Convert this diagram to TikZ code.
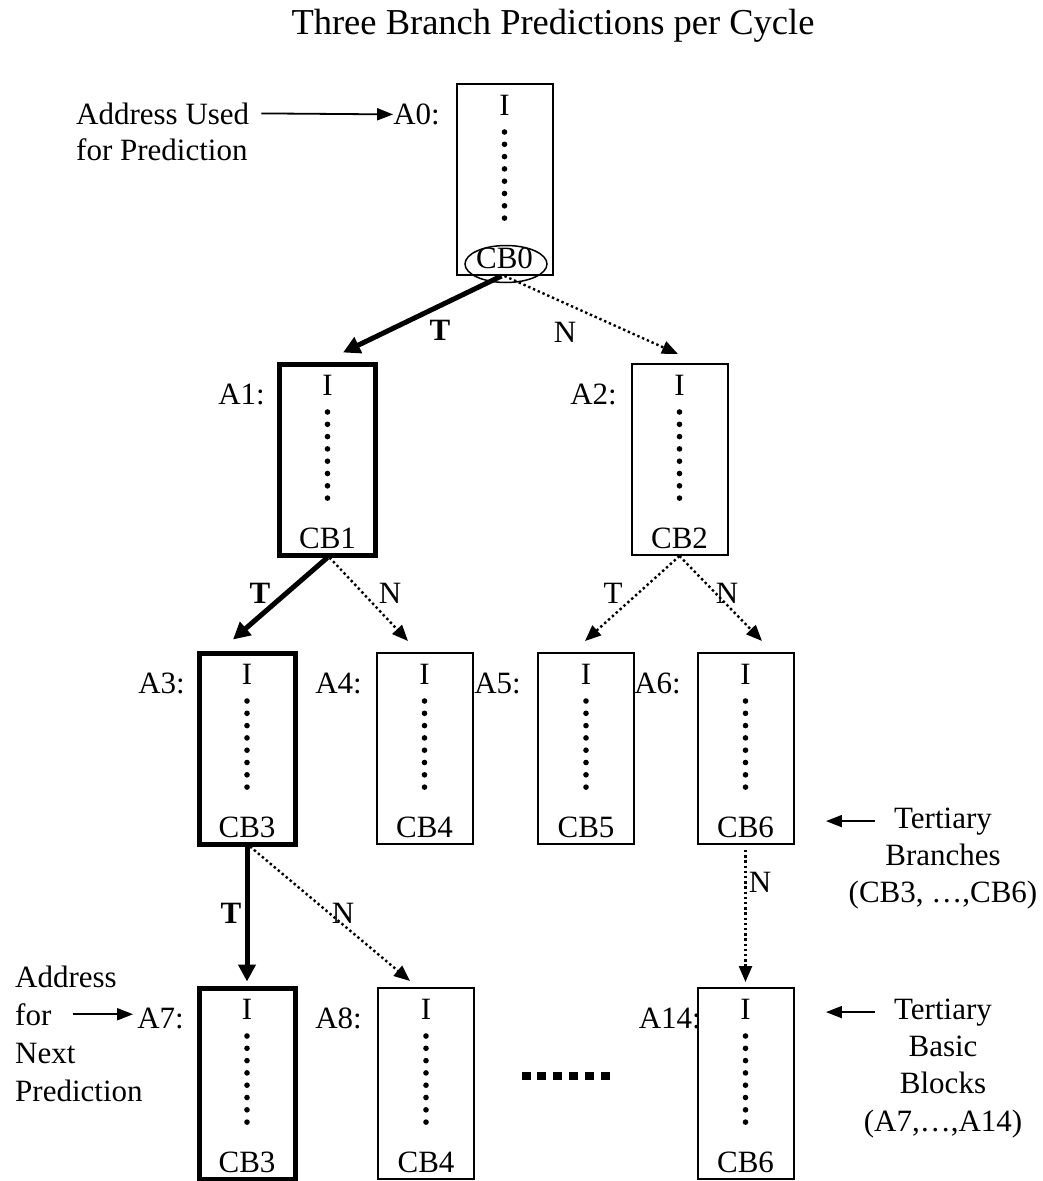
\documentclass[tikz,border=0pt]{standalone}
\usepackage{fontspec}
\setmainfont{Liberation Serif}
\usetikzlibrary{arrows.meta,shapes.geometric,calc}

\newcommand{\mkblk}[7]{%
  % #1 name, #2 x centre, #3 top, #4 box style, #5 label, #6 CB text, #7 label right x
  \node[txt, anchor=base east] (#1l) at (#7,#3+40.5) {#5};
  \node[#4] (#1) at (#2,#3+95.5) {};
  \node[txt, anchor=base] (#1i) at (#2,#3+31.5) {I};
  \foreach \k in {0,...,7} \fill (#2,#3+48+12.3*\k) circle (2.8pt);
  \node[txt, anchor=base] (#1c) at (#2,#3+184) {#6};
}

\begin{document}
\begin{tikzpicture}[x=1pt,y=-1pt,
  txt/.style={font=\fontsize{31}{36}\selectfont, inner sep=0pt},
  btxt/.style={txt, font=\fontsize{31}{36}\selectfont\bfseries},
  blk/.style={draw, line width=2pt, minimum width=96pt, minimum height=191pt, inner sep=0pt, fill=white},
  blkthick/.style={blk, line width=5pt},
  tarrow/.style={line width=5pt, -{Triangle[length=17pt,width=17pt]}},
  narrow/.style={line width=2.4pt, dash pattern=on 2.4pt off 2.8pt, -{Triangle[length=16pt,width=13pt]}},
  thinarrow/.style={line width=1.8pt, -{Triangle[length=16pt,width=12pt]}}
]
\fill[white] (0,0) rectangle (1042,1181);
\useasboundingbox (0,0) rectangle (1042,1181);

\node[anchor=base, inner sep=0pt, font=\fontsize{36.5}{44}\selectfont] (title) at (553,34) {Three Branch Predictions per Cycle};

% left notes
\node[txt, anchor=base west] (addr1) at (76,124) {Address Used};
\node[txt, anchor=base west] (addr2) at (76,160) {for Prediction};
\node[txt, anchor=base west] (nxt1) at (15,987) {Address};
\node[txt, anchor=base west] (nxt2) at (15,1025) {for};
\node[txt, anchor=base west] (nxt3) at (15,1063) {Next};
\node[txt, anchor=base west] (nxt4) at (15,1101) {Prediction};

% blocks
\mkblk{A0}{504.5}{84}{blk}{A0:}{CB0}{440}
\node[draw, ellipse, line width=1.5pt, minimum width=82pt, minimum height=37pt, inner sep=0pt] (CB0e) at (506,264) {};
\mkblk{A1}{327.5}{364}{blkthick}{A1:}{CB1}{265}
\mkblk{A2}{679.5}{364}{blk}{A2:}{CB2}{617}
\mkblk{A3}{247}{653}{blkthick}{A3:}{CB3}{185}
\mkblk{A4}{424.5}{653}{blk}{A4:}{CB4}{362}
\mkblk{A5}{586}{653}{blk}{A5:}{CB5}{521}
\mkblk{A6}{745.5}{653}{blk}{A6:}{CB6}{681}
\mkblk{A7}{247}{988}{blkthick}{A7:}{CB3}{184}
\mkblk{A8}{426}{988}{blk}{A8:}{CB4}{362}
\mkblk{A14}{745.5}{988}{blk}{A14:}{CB6}{701}

% ellipsis between A8 and A14
\foreach \k in {0,...,5} \fill (526+15.8*\k-4.5,1072) rectangle ++(9,8);

% right notes
\node[txt, anchor=base] (tb1) at (943,828) {Tertiary};
\node[txt, anchor=base] (tb2) at (943,865) {Branches};
\node[txt, anchor=base] (tb3) at (943,902) {(CB3, …,CB6)};
\node[txt, anchor=base] (tk1) at (943,1019) {Tertiary};
\node[txt, anchor=base] (tk2) at (943,1056) {Basic};
\node[txt, anchor=base] (tk3) at (943,1093) {Blocks};
\node[txt, anchor=base] (tk4) at (943,1131) {(A7,…,A14)};

% pointer arrows
\draw[thinarrow] ([xshift=12pt]addr1.east) -- (A0l.west);
\draw[thinarrow] ([xshift=21pt]nxt2.east) -- ([xshift=-4pt]A7l.west |- nxt2.east);
\draw[thinarrow] ([xshift=-19pt]tb1.west) -- ([xshift=-68pt]tb1.west);
\draw[thinarrow] ([xshift=-19pt]tk1.west) -- ([xshift=-68pt]tk1.west);

% branch arrows
\draw[tarrow] ([xshift=-3pt]A0.south) -- ([xshift=15.5pt,yshift=9pt]A1.north);
\draw[narrow] (A0.south) -- ([xshift=-1.5pt,yshift=9pt]A2.north);
\draw[tarrow] (A1.south) -- ([xshift=-14pt,yshift=11pt]A3.north);
\draw[narrow] ([xshift=2pt]A1.south) -- ([xshift=-16.5pt,yshift=11pt]A4.north);
\draw[narrow] (A2.south) -- ([xshift=-1pt,yshift=11pt]A5.north);
\draw[narrow] (A2.south) -- ([xshift=16.5pt,yshift=11pt]A6.north);
\draw[tarrow] (A3.south) -- ([yshift=4pt]A7.north);
\draw[narrow] ([xshift=3pt]A3.south) -- ([xshift=-16pt,yshift=6pt]A8.north);
\draw[narrow] ([yshift=-5pt]A6.south) -- ([yshift=5pt]A14.north);

% branch labels
\node[btxt] (t0) at (440,330) {T};
\node[txt] (n0) at (565,332) {N};
\node[btxt] (t1) at (260,593) {T};
\node[txt] (n1) at (390,593) {N};
\node[txt] (t2) at (613,593) {T};
\node[txt] (n2) at (727,593) {N};
\node[btxt] (t3) at (231,913) {T};
\node[txt] (n3) at (343,913) {N};
\node[txt] (n6) at (760,882) {N};
\end{tikzpicture}
\end{document}
